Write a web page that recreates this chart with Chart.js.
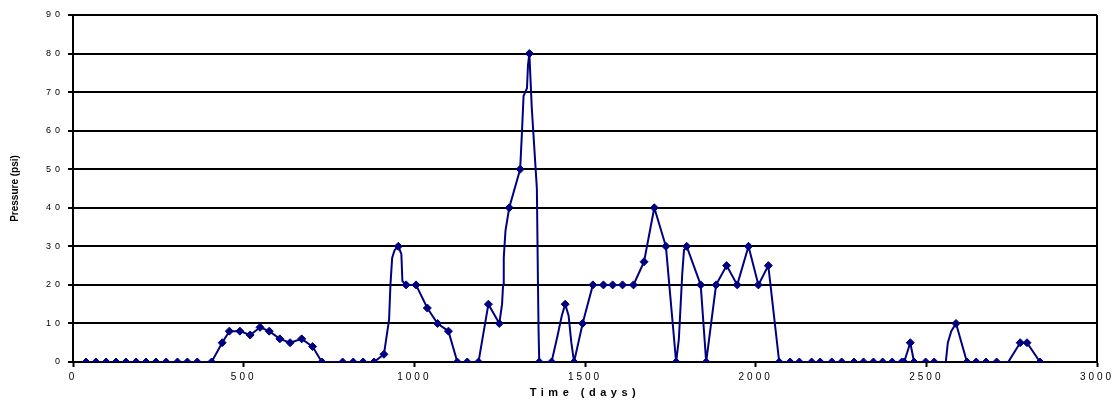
<!DOCTYPE html>
<html>
<head>
<meta charset="utf-8">
<script src="https://cdn.jsdelivr.net/npm/chart.js@4/dist/chart.umd.min.js"></script>
<style>
  html, body { margin: 0; padding: 0; background: #ffffff; }
  #wrap { width: 1120px; height: 405px; }
</style>
</head>
<body>
<div id="wrap"><canvas id="c" width="1120" height="405"></canvas></div>
<script>
// Measured points (with markers)
const markerDays = [38, 67, 97, 126, 155, 185, 214, 243, 273, 306, 335, 364, 406,
  437, 458, 489, 519, 548, 575, 606, 636, 670, 702, 729,
  790, 821, 850, 882, 911, 953, 976, 1005, 1038, 1068, 1100, 1126, 1155, 1188,
  1217, 1249, 1278, 1310, 1337, 1366, 1402, 1442, 1468, 1493,
  1523, 1554, 1581, 1610, 1642, 1673, 1703, 1737, 1767, 1798, 1839, 1855,
  1884, 1915, 1946, 1979, 2008, 2037, 2069, 2101, 2128, 2164, 2189, 2223,
  2252, 2288, 2316, 2345, 2372, 2400, 2428, 2435, 2453, 2464, 2498, 2523,
  2587, 2619, 2646, 2675, 2706, 2775, 2795, 2833];
const markerPsi = [0, 0, 0, 0, 0, 0, 0, 0, 0, 0, 0, 0, 0,
  5, 8, 8, 7, 9, 8, 6, 5, 6, 4, 0,
  0, 0, 0, 0, 2, 30, 20, 20, 14, 10, 8, 0, 0, 0,
  15, 10, 40, 50, 80, 0, 0, 15, 0, 10,
  20, 20, 20, 20, 20, 26, 40, 30, 0, 30, 20, 0,
  20, 25, 20, 30, 20, 25, 0, 0, 0, 0, 0, 0,
  0, 0, 0, 0, 0, 0, 0, 0, 5, 0, 0, 0,
  10, 0, 0, 0, 0, 5, 5, 0];

// Continuous pressure trace (includes the measured points plus intermediate readings)
const traceDays = [38, 67, 97, 126, 155, 185, 214, 243, 273, 306, 335, 364, 406,
  437, 458, 489, 519, 548, 575, 606, 636, 670, 702, 729,
  790, 821, 850, 882, 911, 926, 930, 935, 942, 953, 962, 965, 976, 1005, 1038, 1068, 1100,
  1126, 1155, 1188, 1217, 1249, 1257, 1260, 1262, 1267, 1278, 1310, 1315, 1320, 1330, 1333,
  1337, 1344, 1359, 1362, 1364, 1366, 1402, 1420, 1432, 1442, 1452, 1460, 1468, 1493,
  1523, 1554, 1581, 1610, 1642, 1673, 1703, 1737, 1767, 1775, 1785, 1790, 1798, 1839, 1855,
  1884, 1915, 1946, 1979, 2008, 2037, 2069, 2101, 2128, 2164, 2189, 2223,
  2252, 2288, 2316, 2345, 2372, 2400, 2428, 2435, 2453, 2464, 2498, 2523,
  2557, 2563, 2573, 2587, 2619, 2646, 2675, 2706, 2740, 2775, 2795, 2833];
const tracePsi = [0, 0, 0, 0, 0, 0, 0, 0, 0, 0, 0, 0, 0,
  5, 8, 8, 7, 9, 8, 6, 5, 6, 4, 0,
  0, 0, 0, 0, 2, 11, 20, 27, 29, 30, 28, 21, 20, 20, 14, 10, 8,
  0, 0, 0, 15, 10, 15, 20, 27, 34, 40, 50, 59, 69, 71, 77,
  80, 66, 45, 22, 8, 0, 0, 7, 12, 15, 12, 5, 0, 10,
  20, 20, 20, 20, 20, 26, 40, 30, 0, 6, 23, 29, 30, 20, 0,
  20, 25, 20, 30, 20, 25, 0, 0, 0, 0, 0, 0,
  0, 0, 0, 0, 0, 0, 0, 0, 5, 0, 0, 0,
  0, 5, 8, 10, 0, 0, 0, 0, 0, 5, 5, 0];

const xTicks = [0, 500, 1000, 1500, 2000, 2500, 3000];
const yTicks = [0, 10, 20, 30, 40, 50, 60, 70, 80, 90];
const xTitle = 'Time (days)';
const yTitle = 'Pressure (psi)';

const NAVY = '#000080';

const toXY = (xs, ys) => xs.map((x, i) => ({ x: x, y: ys[i] }));

function spaced(fn, ls) {
  return function () {
    const c = this.ctx;
    const prev = c.letterSpacing;
    c.letterSpacing = ls;
    fn.apply(this, arguments);
    c.letterSpacing = prev;
  };
}

const spacingPlugin = {
  id: 'spacing',
  beforeDraw(chart) {
    const xs = chart.scales.x, ys = chart.scales.y;
    if (!xs._spaced) {
      xs.drawLabels = spaced(xs.drawLabels, '3px');
      xs.drawTitle = spaced(xs.drawTitle, '4.5px');
      xs._spaced = true;
    }
    if (!ys._spaced) {
      ys.drawLabels = spaced(ys.drawLabels, '4px');
      ys.drawTitle = spaced(ys.drawTitle, '0px');
      ys._spaced = true;
    }
  }
};

const frame = {
  id: 'frame',
  afterDatasetsDraw(chart) {
    const a = chart.chartArea, ctx = chart.ctx;
    ctx.save();
    ctx.strokeStyle = '#000';
    ctx.lineWidth = 2;
    ctx.beginPath();
    ctx.moveTo(a.right, a.top);
    ctx.lineTo(a.right, a.bottom);
    ctx.stroke();
    ctx.restore();
  }
};

new Chart(document.getElementById('c'), {
  type: 'line',
  data: {
    datasets: [
      {
        label: 'trace',
        data: toXY(traceDays, tracePsi),
        borderColor: NAVY,
        borderWidth: 2,
        pointRadius: 0,
        tension: 0,
        fill: false,
        order: 2
      },
      {
        label: 'measured',
        data: toXY(markerDays, markerPsi),
        showLine: false,
        pointStyle: 'rectRot',
        pointRadius: 4,
        pointBackgroundColor: NAVY,
        pointBorderColor: NAVY,
        pointBorderWidth: 1,
        order: 1
      }
    ]
  },
  options: {
    responsive: false,
    animation: false,
    devicePixelRatio: 1,
    layout: { padding: { top: 15, right: 23, bottom: 5, left: 0 } },
    plugins: {
      legend: { display: false },
      tooltip: { enabled: false }
    },
    scales: {
      x: {
        type: 'linear',
        min: 0, max: 3000,
        afterBuildTicks: s => { s.ticks = xTicks.map(v => ({ value: v })); },
        afterFit: s => { s.height = 38; },
        ticks: {
          color: '#000',
          font: { family: 'Liberation Sans', size: 10 },
          padding: 4,
          maxRotation: 0,
          autoSkip: false,
          callback: v => String(v)
        },
        grid: {
          drawOnChartArea: false,
          drawTicks: true,
          tickLength: 5,
          tickColor: '#000',
          tickWidth: 2
        },
        border: { color: '#000', width: 2 },
        title: {
          display: true,
          text: xTitle,
          color: '#000',
          font: { family: 'Liberation Sans', size: 11, weight: 'bold' },
          padding: { top: 1, bottom: 0 }
        }
      },
      y: {
        type: 'linear',
        min: 0, max: 90,
        afterBuildTicks: s => { s.ticks = yTicks.map(v => ({ value: v })); },
        afterFit: s => { s.width = 73; },
        ticks: {
          color: '#000',
          font: { family: 'Liberation Sans', size: 9 },
          padding: 4,
          autoSkip: false,
          callback: v => String(v)
        },
        grid: {
          color: '#000',
          lineWidth: 2,
          drawTicks: true,
          tickLength: 5,
          tickColor: '#000',
          tickWidth: 2
        },
        border: { color: '#000', width: 2 },
        title: {
          display: true,
          text: yTitle,
          color: '#000',
          font: { family: 'Liberation Sans', size: 10, weight: 'bold' },
          padding: { top: 9, bottom: 0 }
        }
      }
    }
  },
  plugins: [spacingPlugin, frame]
});
</script>
</body>
</html>
